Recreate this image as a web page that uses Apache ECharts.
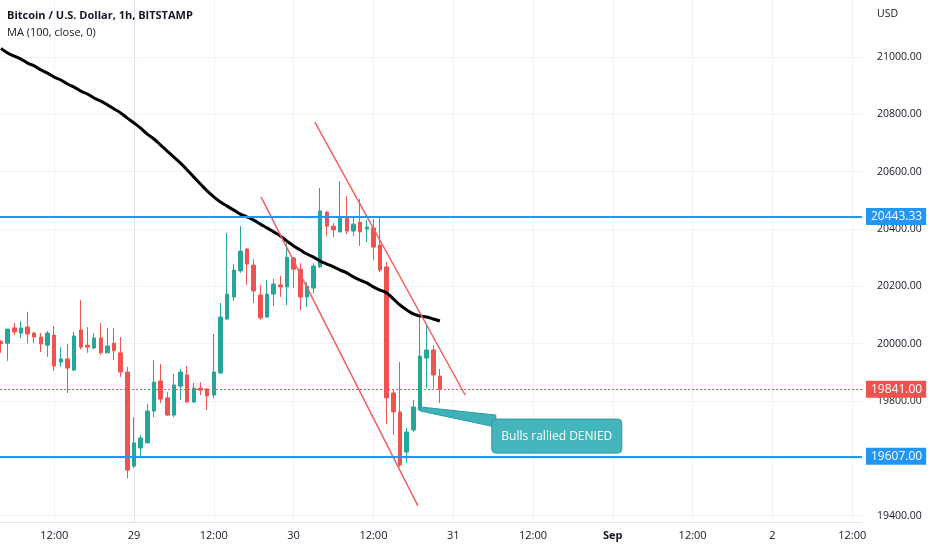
<!DOCTYPE html>
<html>
<head>
<meta charset="utf-8">
<title>BTCUSD 1h</title>
<script src="https://cdn.jsdelivr.net/npm/echarts@6/dist/echarts.min.js"></script>
<style>
  html, body { margin: 0; padding: 0; background: #fff; }
  #chart { width: 932px; height: 550px; }
</style>
</head>
<body>
<div id="chart"></div>
<script>
// x positions are hours counted from Aug 29 00:00
var hours = [-20,-19,-18,-17,-16,-15,-14,-13,-12,-11,-10,-9,-8,-7,-6,-5,-4,-3,-2,-1,
  0,1,2,3,4,5,6,7,8,9,10,11,12,13,14,15,16,17,18,19,20,21,22,23,24,25,26,27,28,29,
  30,31,32,33,34,35,36,37,38,39,40,41,42,43,44,45,46];

var opens  = [20008,20002,20055,20037,20058,20037,20023,19995,20030,19936,19947,19908,20048,19995,19985,20020,19968,20002,19968,19901,
  19573,19636,19654,19765,19870,19811,19751,19852,19891,19797,19845,19842,19821,19898,20086,20163,20254,20330,20274,20170,
  20093,20173,20205,20198,20299,20260,20163,20194,20268,20459,20410,20390,20442,20393,20424,20400,20404,20344,20268,19828,
  19762,19622,19699,19769,19950,19978,19887];
var closes = [20001,20051,20041,20055,20034,20023,19999,20037,19922,19947,19915,20027,19988,19988,20020,19968,19992,19975,19901,19559,
  19654,19671,19765,19866,19807,19751,19856,19901,19797,19845,19838,19818,19901,20093,20173,20257,20323,20278,20184,20090,
  20173,20208,20198,20302,20260,20163,20201,20271,20463,20410,20397,20438,20393,20417,20390,20407,20337,20257,19811,19762,
  19577,19692,19779,19957,19978,19891,19841];
var lows   = [19968,19940,20030,20020,20002,20002,19971,19954,19905,19919,19828,19905,19981,19968,19981,19961,19968,19943,19884,19531,
  19566,19605,19654,19744,19793,19748,19744,19804,19793,19793,19821,19769,19811,19894,20083,20149,20247,20205,20142,20083,
  20090,20131,20163,20135,20194,20117,20128,20177,20264,20376,20372,20390,20383,20376,20341,20355,20292,20250,19720,19682,
  19570,19584,19692,19769,19845,19845,19793];
var highs  = [20013,20051,20072,20079,20111,20041,20037,20044,20062,19988,19999,20041,20152,20058,20037,20072,20055,20055,20023,19919,
  19744,19682,19790,19943,19929,19831,19894,19912,19922,19863,19866,19845,20034,20142,20386,20278,20410,20334,20295,20205,
  20222,20226,20236,20351,20302,20281,20215,20281,20543,20463,20421,20567,20515,20442,20505,20431,20435,20442,20285,19842,
  19936,19706,19804,20093,20065,19995,19912];

// MA (100, close, 0)
var maValues = [21030,21014,21003,20993,20979,20969,20955,20944,20930,20920,20906,20895,20881,20871,20857,20846,20833,20819,20805,20787,
  20770,20752,20731,20714,20693,20672,20651,20630,20606,20581,20557,20533,20512,20494,20480,20466,20452,20442,20431,20417,
  20404,20390,20376,20358,20341,20327,20313,20302,20288,20278,20268,20257,20247,20233,20222,20212,20198,20187,20177,20156,
  20135,20118,20104,20097,20093,20086,20079];

// drawn channel lines [hour, price]
var upperTrend = [[27.2, 20773], [49.8, 19821]];
var lowerTrend = [[19.1, 20512], [42.7, 19434]];

var levelLines = [20443.33, 19607];
var lastPrice = 19841;

var timeTicks  = [-12, 0, 12, 24, 36, 48, 60, 72, 84, 96, 108];
var timeLabels = ['12:00', '29', '12:00', '30', '12:00', '31', '12:00', 'Sep', '12:00', '2', '12:00'];
var priceTicks = [19400, 19600, 19800, 20000, 20200, 20400, 20600, 20800, 21000];

var calloutText = 'Bulls rallied DENIED';
var calloutTip = [43, 19776];
var calloutCorner = [53.8, 19737];

var UP = '#26a69a', DOWN = '#ef5350', BLUE = '#2196f3', TXT = '#131722';
var FONT = 'Open Sans';

var candleData = hours.map(function (h, i) {
  return [h, opens[i], closes[i], lows[i], highs[i]];
});
var maData = hours.map(function (h, i) { return [h, maValues[i]]; });

var myChart = echarts.init(document.getElementById('chart'));

var priceTag = function (bg) {
  return {
    position: 'end', distance: 4,
    formatter: function (p) { return p.value.toFixed(2); },
    backgroundColor: bg, color: '#fff', padding: [3, 4, 2, 5],
    fontSize: 12, fontFamily: FONT
  };
};

var option = {
  animation: false,
  textStyle: { fontFamily: FONT },
  title: [
    { text: 'Bitcoin / U.S. Dollar, 1h, BITSTAMP', left: 7, top: 10, padding: 0,
      textStyle: { fontFamily: FONT, fontSize: 11, fontWeight: 'bold', color: TXT } },
    { text: 'MA (100, close, 0)', left: 7, top: 27, padding: 0,
      textStyle: { fontFamily: FONT, fontSize: 11, fontWeight: 'normal', color: TXT } }
  ],
  grid: { left: 0, right: 70, top: 0, bottom: 28 },
  xAxis: {
    type: 'value',
    min: -20.15,
    max: 109.47,
    axisLine: { show: true, lineStyle: { color: '#e0e3eb' } },
    axisTick: { show: false, customValues: timeTicks },
    axisLabel: {
      customValues: timeTicks,
      color: TXT, fontSize: 11, margin: 8, fontFamily: FONT,
      formatter: function (v) {
        var s = timeLabels[timeTicks.indexOf(v)];
        return s === 'Sep' ? '{m|' + s + '}' : s;
      },
      rich: { m: { fontWeight: 'bold', fontSize: 11, color: TXT, fontFamily: FONT } }
    },
    splitLine: { show: true, lineStyle: { color: '#f0f3fa' } }
  },
  yAxis: {
    type: 'value',
    position: 'right',
    min: 19378,
    max: 21199,
    axisLine: { show: true, lineStyle: { color: '#e0e3eb' } },
    axisTick: { show: false, customValues: priceTicks },
    axisLabel: {
      customValues: priceTicks,
      align: 'left',
      color: TXT, fontSize: 10.5, margin: 15, fontFamily: FONT,
      formatter: function (v) { return v.toFixed(2); }
    },
    splitLine: { show: true, lineStyle: { color: '#f0f3fa' } }
  },
  series: [
    {
      name: 'levels',
      type: 'line',
      data: [],
      markLine: {
        silent: true,
        symbol: ['none', 'none'],
        data: levelLines.map(function (v) { return { yAxis: v }; }),
        lineStyle: { color: BLUE, width: 2, type: 'solid' },
        label: priceTag(BLUE)
      }
    },
    {
      name: 'BTCUSD',
      type: 'candlestick',
      data: candleData,
      encode: { x: 0, y: [1, 2, 3, 4] },
      barWidth: 4,
      itemStyle: {
        color: UP, color0: DOWN,
        borderColor: UP, borderColor0: DOWN,
        borderWidth: 1
      },
      markLine: {
        silent: true,
        symbol: ['none', 'none'],
        data: [{ yAxis: lastPrice }],
        lineStyle: { color: DOWN, width: 1, type: [2, 2] },
        label: priceTag(DOWN)
      }
    },
    {
      name: 'MA',
      type: 'line',
      data: maData,
      smooth: true,
      showSymbol: false,
      lineStyle: { color: '#000', width: 3 }
    },
    {
      name: 'upper',
      type: 'line',
      data: upperTrend,
      showSymbol: false,
      lineStyle: { color: '#f0605d', width: 1.5 }
    },
    {
      name: 'lower',
      type: 'line',
      data: lowerTrend,
      showSymbol: false,
      lineStyle: { color: '#f0605d', width: 1.5 }
    }
  ]
};

myChart.setOption(option);

// callout box placed from its anchor values
var tip = myChart.convertToPixel({ gridIndex: 0 }, calloutTip);
var corner = myChart.convertToPixel({ gridIndex: 0 }, calloutCorner);
var bw = 130, bh = 34;
myChart.setOption({
  graphic: [
    { type: 'text', left: 877, top: 9,
      style: { text: 'USD', fill: TXT, font: '10.5px "Open Sans"' } },
    { type: 'polygon', z: 10,
      shape: { points: [[tip[0], tip[1] - 1], [corner[0] + 4, corner[1] - 4], [corner[0] + 4, corner[1] + 8], [tip[0], tip[1] + 3]] },
      style: { fill: '#3fb1b9', stroke: '#2c9aa3', lineWidth: 1 } },
    { type: 'rect', z: 11,
      shape: { x: corner[0], y: corner[1], width: bw, height: bh, r: 4 },
      style: { fill: '#45b5bd', stroke: '#2c9aa3', lineWidth: 1 } },
    { type: 'text', z: 12,
      x: corner[0] + bw / 2, y: corner[1] + bh / 2,
      style: { text: calloutText, fill: '#fff', font: '12px "Open Sans"', align: 'center', verticalAlign: 'middle' } }
  ]
});

window.addEventListener('resize', function () {
  myChart.resize();
});
</script>
</body>
</html>
